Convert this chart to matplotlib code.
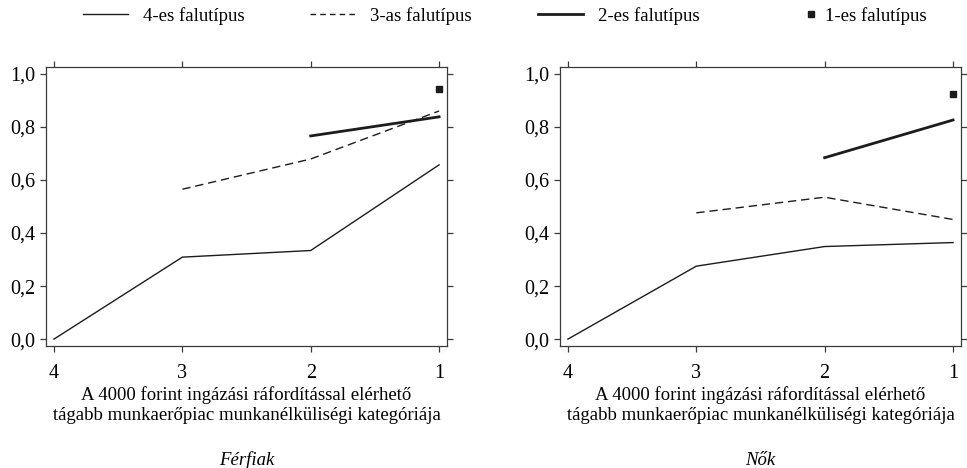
from matplotlib import pyplot as plt
from matplotlib.lines import Line2D

# falutípusok szerinti arányok, munkanélküliségi kategóriánként (4 -> 1)
kategoriak = [4, 3, 2, 1]

ferfi_4 = [0.0, 0.309, 0.334, 0.657]
ferfi_3 = [0.565, 0.679, 0.860]
ferfi_2 = [0.766, 0.838]
ferfi_1 = [0.942]

no_4 = [0.0, 0.275, 0.349, 0.364]
no_3 = [0.476, 0.535, 0.451]
no_2 = [0.684, 0.826]
no_1 = [0.923]

y_ticks = [0.0, 0.2, 0.4, 0.6, 0.8, 1.0]
legend_labels = ['4-es falutípus', '3-as falutípus', '2-es falutípus', '1-es falutípus']
xlabel = 'A 4000 forint ingázási ráfordítással elérhető\ntágabb munkaerőpiac munkanélküliségi kategóriája'

plt.rcParams['font.family'] = ['Liberation Serif', 'DejaVu Serif']

INK = '#1c1c1c'
FRAME = '#3a3a3a'


def panel(ax, s4, s3, s2, s1, title):
    ax.plot(kategoriak, s4, color=INK, lw=1.0)
    ax.plot(kategoriak[1:], s3, color=INK, lw=1.0, ls=(0, (6, 3.5)))
    ax.plot(kategoriak[2:], s2, color=INK, lw=2.0)
    ax.plot(kategoriak[3:], s1, color=INK, ls='none', marker='s', ms=5)
    ax.set_xlim(4.062, 0.938)
    ax.set_ylim(-0.026, 1.026)
    ax.set_xticks(kategoriak)
    ax.set_yticks(y_ticks)
    ax.set_yticklabels([f'{v:.1f}'.replace('.', ',') for v in y_ticks])
    ax.tick_params(direction='out', length=4.5, width=0.9, color=FRAME,
                   top=True, right=True, labelsize=14.5)
    ax.tick_params(axis='x', pad=8.5)
    ax.tick_params(axis='y', pad=3)
    for sp in ax.spines.values():
        sp.set_color(FRAME)
        sp.set_linewidth(0.9)
    ax.set_xlabel(xlabel, fontsize=13.5, labelpad=2, linespacing=1.27)
    ax.text(0.5, -0.409, title, transform=ax.transAxes, ha='center', va='center',
            fontsize=13.5, style='italic')


fig = plt.figure(figsize=(9.67, 4.68), dpi=100)
ax1 = fig.add_axes([0.0476, 0.2607, 0.4147, 0.5962])
ax2 = fig.add_axes([0.5791, 0.2607, 0.4147, 0.5962])

panel(ax1, ferfi_4, ferfi_3, ferfi_2, ferfi_1, 'Férfiak')
panel(ax2, no_4, no_3, no_2, no_1, 'Nők')

# jelmagyarázat: négy külön bejegyzés a felső sávban
legend_items = [
    (Line2D([], [], color=INK, lw=1.0), 83, 2.4, 0.8),
    (Line2D([], [], color=INK, lw=1.0, ls=(0, (4, 3))), 310, 2.4, 0.8),
    (Line2D([], [], color=INK, lw=2.0), 538, 2.4, 0.8),
    (Line2D([], [], color=INK, ls='none', marker='s', ms=4), 805, 0.6, 0.48),
]
for (handle, x0, hlen, hpad), label in zip(legend_items, legend_labels):
    fig.legend([handle], [label], loc='center left',
               bbox_to_anchor=(x0 / 967, 1 - 16 / 468), frameon=False,
               fontsize=13.5, handlelength=hlen, handletextpad=hpad,
               borderpad=0, borderaxespad=0)

fig.savefig('out.png', dpi=100)
